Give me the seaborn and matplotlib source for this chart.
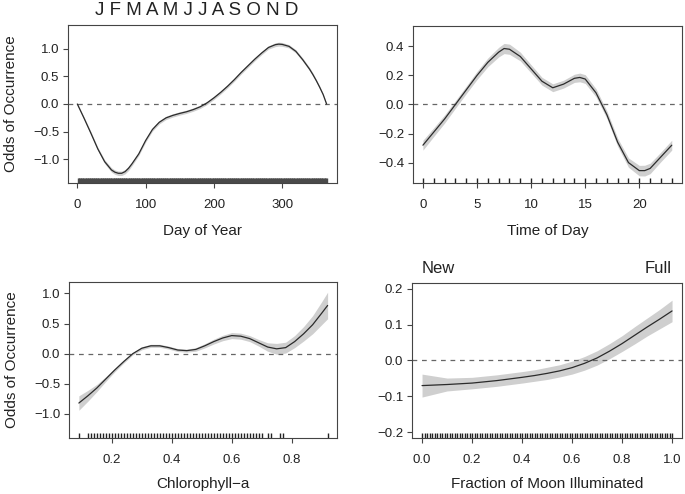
import numpy as np
import pandas as pd
import matplotlib
matplotlib.use("Agg")
import matplotlib.pyplot as plt
import seaborn as sns

# Day of year smooth (fit and half-width of confidence band)
day_x = [0, 5, 10, 20, 30, 40, 50, 55, 60, 65, 70, 75, 80, 90, 100, 110, 120, 130, 140,
         150, 160, 170, 180, 190, 200, 210, 220, 230, 240, 250, 260, 270, 280, 290, 295,
         300, 310, 320, 330, 340, 345, 350, 355, 360, 365]
day_fit = [0.00, -0.13, -0.26, -0.53, -0.81, -1.04, -1.19, -1.23, -1.25, -1.25, -1.22, -1.16,
           -1.08, -0.90, -0.66, -0.46, -0.33, -0.25, -0.205, -0.17, -0.14, -0.10, -0.05, 0.02,
           0.11, 0.21, 0.32, 0.44, 0.57, 0.69, 0.81, 0.92, 1.02, 1.07, 1.08, 1.075, 1.04,
           0.95, 0.80, 0.63, 0.53, 0.42, 0.30, 0.17, 0.00]
day_se = [0.02, 0.02, 0.025, 0.03, 0.03, 0.035, 0.04, 0.04, 0.04, 0.04, 0.04, 0.04, 0.035,
          0.03, 0.03, 0.03, 0.03, 0.03, 0.03, 0.03, 0.03, 0.03, 0.03, 0.03, 0.03, 0.03, 0.03,
          0.03, 0.03, 0.03, 0.03, 0.03, 0.03, 0.035, 0.035, 0.035, 0.03, 0.03, 0.03, 0.03,
          0.03, 0.025, 0.025, 0.02, 0.02]
day_rug = list(range(1, 366))

# Time of day smooth
hour_x = [0, 1, 2, 3, 4, 5, 6, 7, 7.5, 8, 9, 10, 11, 12, 13, 14, 14.5, 15, 16, 17, 18, 19,
          20, 20.5, 21, 22, 23]
hour_fit = [-0.28, -0.19, -0.10, 0.00, 0.10, 0.20, 0.29, 0.36, 0.385, 0.38, 0.33, 0.245,
            0.16, 0.115, 0.14, 0.18, 0.186, 0.175, 0.08, -0.07, -0.26, -0.40, -0.455, -0.455,
            -0.44, -0.36, -0.28]
hour_se = [0.034, 0.03, 0.028, 0.026, 0.026, 0.028, 0.03, 0.033, 0.035, 0.035, 0.03, 0.028,
           0.027, 0.027, 0.027, 0.028, 0.03, 0.03, 0.028, 0.026, 0.028, 0.032, 0.036, 0.037,
           0.036, 0.033, 0.034]
hour_rug = [0, 1, 2, 3, 4, 5, 6, 7, 8, 9, 10, 11, 12, 13, 14, 15, 16, 17, 18, 19, 20, 21, 22, 23]

# Chlorophyll-a smooth
chl_x = [0.09, 0.12, 0.15, 0.18, 0.21, 0.24, 0.27, 0.30, 0.33, 0.36, 0.39, 0.42, 0.45, 0.48,
         0.51, 0.54, 0.57, 0.60, 0.63, 0.66, 0.69, 0.72, 0.75, 0.78, 0.81, 0.84, 0.87, 0.90,
         0.92]
chl_fit = [-0.82, -0.70, -0.57, -0.42, -0.27, -0.13, 0.00, 0.09, 0.13, 0.13, 0.10, 0.06, 0.05,
           0.07, 0.13, 0.20, 0.26, 0.30, 0.29, 0.25, 0.18, 0.11, 0.08, 0.10, 0.20, 0.33, 0.48,
           0.67, 0.80]
chl_se = [0.12, 0.09, 0.06, 0.04, 0.03, 0.025, 0.02, 0.025, 0.025, 0.025, 0.025, 0.025, 0.025,
          0.03, 0.035, 0.04, 0.045, 0.05, 0.05, 0.05, 0.055, 0.07, 0.09, 0.09, 0.1, 0.12,
          0.15, 0.19, 0.22]
chl_rug = [0.09, 0.12, 0.13, 0.14, 0.15, 0.16, 0.17, 0.18, 0.19, 0.20, 0.21, 0.22, 0.23, 0.24,
           0.25, 0.26, 0.27, 0.28, 0.29, 0.30, 0.31, 0.32, 0.33, 0.34, 0.35, 0.36, 0.37, 0.38,
           0.39, 0.40, 0.41, 0.42, 0.43, 0.44, 0.45, 0.46, 0.47, 0.48, 0.49, 0.50, 0.51, 0.52,
           0.53, 0.54, 0.55, 0.56, 0.57, 0.58, 0.59, 0.60, 0.61, 0.62, 0.63, 0.64, 0.65, 0.66,
           0.67, 0.68, 0.69, 0.70, 0.72, 0.73, 0.76, 0.77, 0.92]

# Moon illumination smooth
moon_x = [0.0, 0.1, 0.2, 0.3, 0.4, 0.45, 0.5, 0.55, 0.6, 0.65, 0.7, 0.75, 0.8, 0.85, 0.9,
          0.95, 1.0]
moon_fit = [-0.070, -0.067, -0.063, -0.056, -0.047, -0.042, -0.036, -0.029, -0.020, -0.008,
            0.007, 0.026, 0.047, 0.070, 0.093, 0.115, 0.138]
moon_se = [0.032, 0.018, 0.016, 0.016, 0.016, 0.016, 0.017, 0.017, 0.018, 0.019, 0.02, 0.021,
           0.022, 0.024, 0.025, 0.027, 0.03]
moon_rug = [0.00, 0.01, 0.02, 0.03, 0.04, 0.05, 0.06, 0.07, 0.08, 0.09, 0.10, 0.11, 0.12, 0.13,
            0.14, 0.15, 0.16, 0.17, 0.18, 0.19, 0.20, 0.21, 0.22, 0.23, 0.24, 0.25, 0.26, 0.27,
            0.28, 0.29, 0.30, 0.31, 0.32, 0.33, 0.34, 0.35, 0.36, 0.37, 0.38, 0.39, 0.40, 0.41,
            0.42, 0.43, 0.44, 0.45, 0.46, 0.47, 0.48, 0.49, 0.50, 0.51, 0.52, 0.53, 0.54, 0.55,
            0.56, 0.57, 0.58, 0.59, 0.60, 0.61, 0.62, 0.63, 0.64, 0.65, 0.66, 0.67, 0.68, 0.69,
            0.70, 0.71, 0.72, 0.73, 0.74, 0.75, 0.76, 0.77, 0.78, 0.79, 0.80, 0.81, 0.82, 0.83,
            0.84, 0.85, 0.86, 0.87, 0.88, 0.89, 0.90, 0.91, 0.92, 0.93, 0.94, 0.95, 0.96, 0.97,
            0.98, 0.99, 1.00]

# Tick labels
day_ticks = [0, 100, 200, 300]
day_yticks = [-1.0, -0.5, 0.0, 0.5, 1.0]
day_ylabels = ["\u22121.0", "\u22120.5", "0.0", "0.5", "1.0"]
hour_ticks = [0, 5, 10, 15, 20]
hour_yticks = [-0.4, -0.2, 0.0, 0.2, 0.4]
hour_ylabels = ["\u22120.4", "\u22120.2", "0.0", "0.2", "0.4"]
chl_ticks = [0.2, 0.4, 0.6, 0.8]
chl_xlabels = ["0.2", "0.4", "0.6", "0.8"]
moon_ticks = [0.0, 0.2, 0.4, 0.6, 0.8, 1.0]
moon_xlabels = ["0.0", "0.2", "0.4", "0.6", "0.8", "1.0"]
moon_yticks = [-0.2, -0.1, 0.0, 0.1, 0.2]
moon_ylabels = ["\u22120.2", "\u22120.1", "0.0", "0.1", "0.2"]
month_letters = "J F M A M J J A S O N D"

LINE = "#2b2b2b"
BAND = "#cfcfcf"
AXCOL = "#444444"
TXT = "#222222"

sns.set_theme(style="ticks")
plt.rcParams["font.family"] = ["Liberation Sans", "DejaVu Sans"]
plt.rcParams["text.color"] = TXT
plt.rcParams["axes.labelcolor"] = TXT
plt.rcParams["xtick.color"] = AXCOL
plt.rcParams["ytick.color"] = AXCOL
plt.rcParams["xtick.labelcolor"] = TXT
plt.rcParams["ytick.labelcolor"] = TXT


def draw_panel(ax, x, fit, se, rug, xlim, ylim, rug_lw, rug_col="#222222"):
    df = pd.DataFrame({"x": x, "fit": fit, "se": se})
    ax.fill_between(df["x"], df["fit"] - df["se"], df["fit"] + df["se"], color=BAND, lw=0)
    ax.axhline(0, color="#666666", lw=0.9, ls=(0, (3.8, 3.8)))
    sns.lineplot(data=df, x="x", y="fit", ax=ax, color=LINE, lw=0.9)
    sns.rugplot(x=rug, ax=ax, height=0.03, color=rug_col, lw=rug_lw, expand_margins=False)
    ax.set_xlim(*xlim)
    ax.set_ylim(*ylim)
    for s in ax.spines.values():
        s.set_visible(True)
        s.set_color(AXCOL)
        s.set_linewidth(0.8)
    ax.tick_params(axis="both", direction="out", length=3.6, width=0.8, labelsize=9.5)
    ax.tick_params(axis="x", pad=8)
    ax.tick_params(axis="y", pad=2.7)
    ax.set_ylabel("")


fig = plt.figure(figsize=(6.85, 4.94), dpi=100)
ax1 = fig.add_axes([0.0993, 0.6296, 0.3920, 0.3198])
ax2 = fig.add_axes([0.6029, 0.6296, 0.3923, 0.3178])
ax3 = fig.add_axes([0.1007, 0.1134, 0.3920, 0.3158])
ax4 = fig.add_axes([0.6015, 0.1134, 0.3942, 0.3138])

# Day of year
draw_panel(ax1, day_x, day_fit, day_se, day_rug, (-13.6, 379.6), (-1.425, 1.425), 0.35,
           rug_col="#4a4a4a")
ax1.set_xticks(day_ticks, labels=[str(t) for t in day_ticks])
ax1.set_yticks(day_yticks, labels=day_ylabels)
ax1.set_xlabel("Day of Year", fontsize=11, labelpad=9)
ax1.set_ylabel("Odds of Occurrence", fontsize=11, labelpad=11)
fig.text(0.2876, 1 - 15 / 494, month_letters, ha="center", va="baseline", fontsize=13.5)

# Time of day
draw_panel(ax2, hour_x, hour_fit, hour_se, hour_rug, (-0.92, 23.92), (-0.54, 0.54), 0.8)
ax2.set_xticks(hour_ticks, labels=[str(t) for t in hour_ticks])
ax2.set_yticks(hour_yticks, labels=hour_ylabels)
ax2.set_xlabel("Time of Day", fontsize=11, labelpad=9)

# Chlorophyll-a
draw_panel(ax3, chl_x, chl_fit, chl_se, chl_rug, (0.057, 0.953), (-1.40, 1.19), 0.6)
ax3.set_xticks(chl_ticks, labels=chl_xlabels)
ax3.set_yticks(day_yticks, labels=day_ylabels)
ax3.set_xlabel("Chlorophyll\u2212a", fontsize=11, labelpad=8)
ax3.set_ylabel("Odds of Occurrence", fontsize=11, labelpad=11)

# Moon illumination
draw_panel(ax4, moon_x, moon_fit, moon_se, moon_rug, (-0.04, 1.04), (-0.216, 0.216), 0.5)
ax4.set_xticks(moon_ticks, labels=moon_xlabels)
ax4.set_yticks(moon_yticks, labels=moon_ylabels)
ax4.set_xlabel("Fraction of Moon Illuminated", fontsize=11, labelpad=8)
ax4.text(0.0, 1.065, "New", transform=ax4.get_xaxis_transform(), ha="left",
         va="baseline", fontsize=12)
ax4.text(1.0, 1.065, "Full", transform=ax4.get_xaxis_transform(), ha="right",
         va="baseline", fontsize=12)

fig.savefig("out.png", dpi=100)
